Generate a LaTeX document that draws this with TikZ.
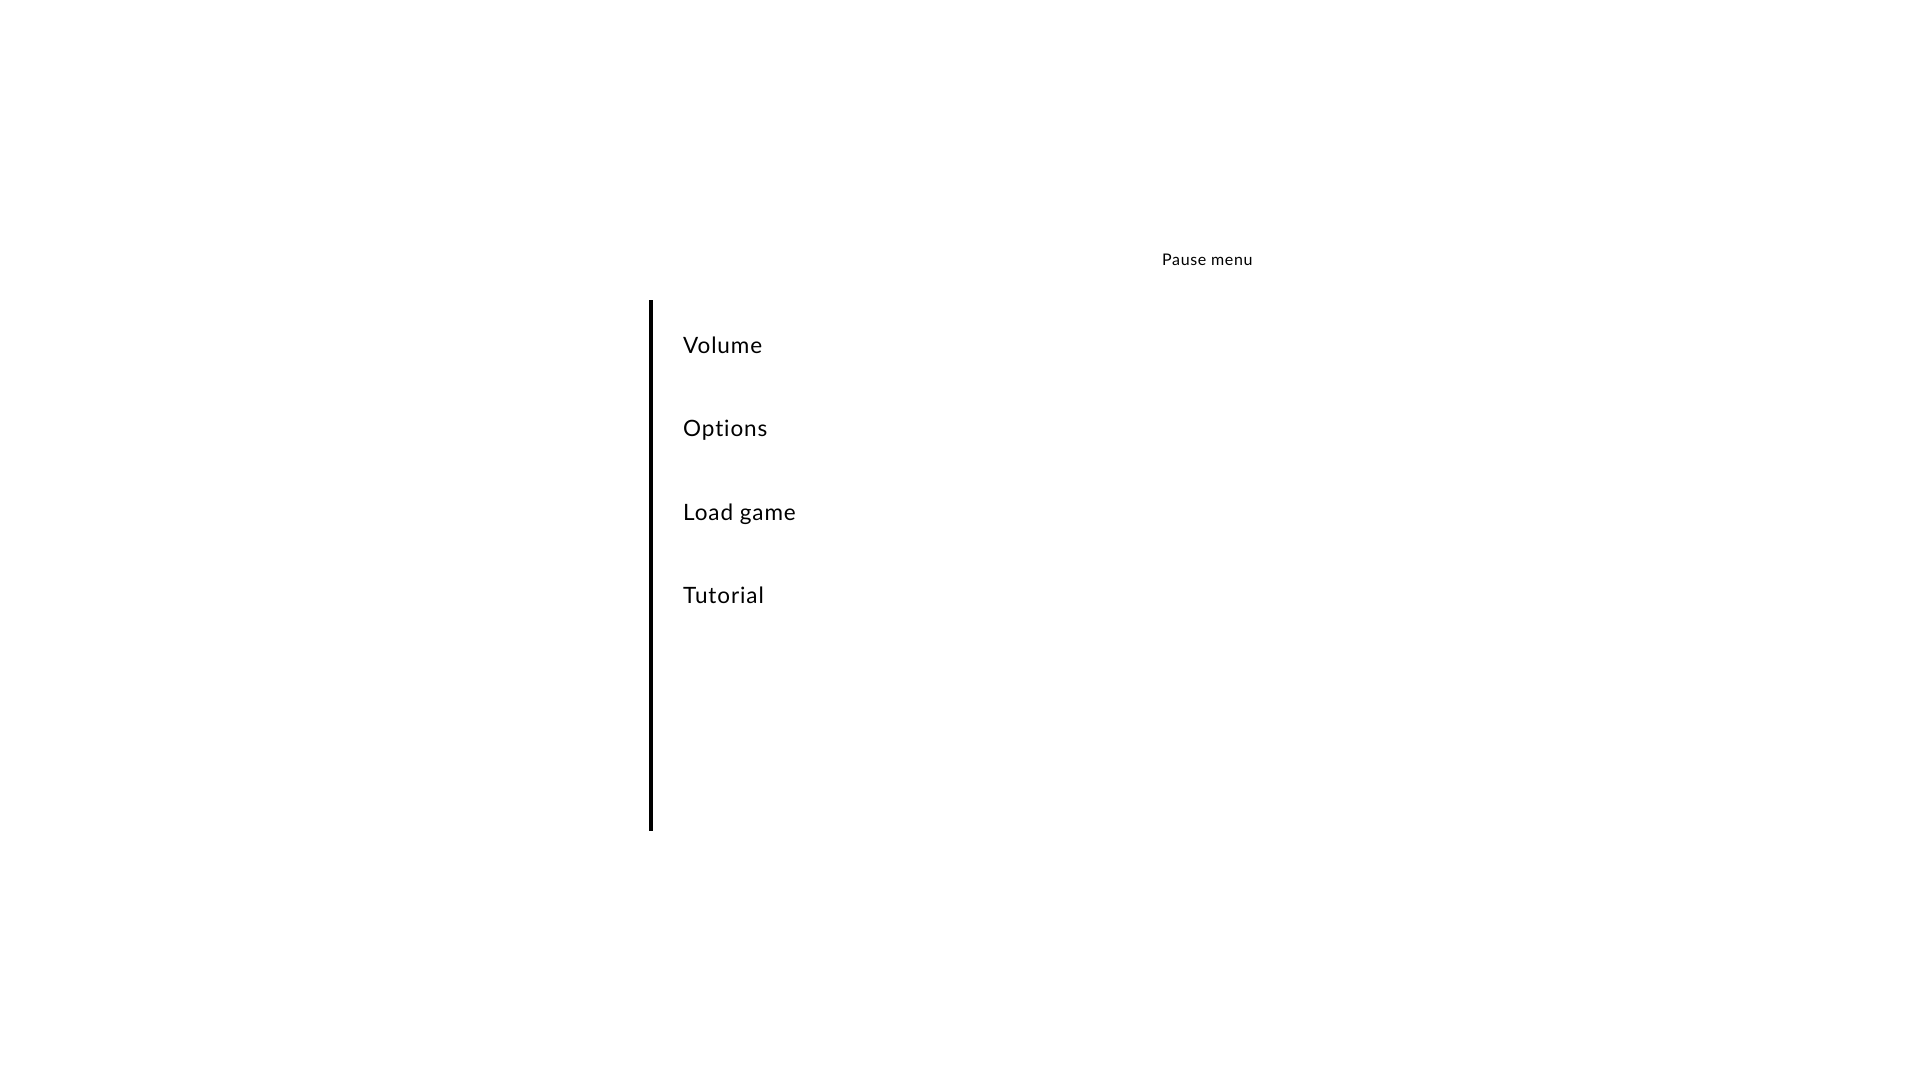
\documentclass[tikz,border=0pt]{standalone}
\usepackage{fontspec}
\setmainfont{Lato}[Ligatures=NoCommon,LetterSpace=4]
\usetikzlibrary{matrix}

\begin{document}
\begin{tikzpicture}[x=1pt,y=-1pt,
  menuitem/.style={anchor=base west,inner sep=0pt,font=\fontsize{22.5}{26}\selectfont},
  title/.style={anchor=base west,inner sep=0pt,font=\fontsize{16}{18}\selectfont}]
\useasboundingbox (0,0) rectangle (1920,1080);
% heading of the screen
\node[title] (head) at (1162,265) {Pause menu};
% the bar left of the entries
\coordinate (bartop) at (651,300);
\coordinate (barbot) at (651,831);
\draw[line width=4pt] (bartop) -- (barbot);
% entries, one per row
\matrix (m) [matrix of nodes,
row sep={83.5pt,between origins},
nodes={menuitem},
matrix anchor=m-1-1.base west] at (683,353)
{
Volume \\
Options \\
Load game \\
Tutorial \\
};
\end{tikzpicture}
\end{document}
